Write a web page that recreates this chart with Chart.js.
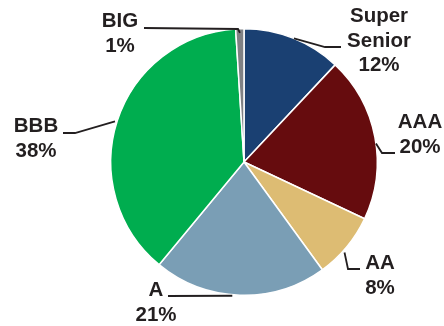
<!DOCTYPE html>
<html>
<head>
<meta charset="utf-8">
<script src="https://cdn.jsdelivr.net/npm/chart.js@4/dist/chart.umd.min.js"></script>
<style>
  html, body { margin: 0; padding: 0; background: #fff; }
  #wrap { width: 444px; height: 326px; position: relative; }
</style>
</head>
<body>
<div id="wrap"><canvas id="pie" width="444" height="326"></canvas></div>
<script>
// data, clockwise from 12 o'clock
const ratings = ['Super Senior', 'AAA', 'AA', 'A', 'BBB', 'BIG'];
const shares = [12, 20, 8, 21, 38, 1];
const sliceColors = ['#1A4072', '#660C0E', '#DDBC73', '#7A9EB5', '#00AD4F', '#7F8184'];

// label text lines + where the leader line leaves the slice (degrees from top, clockwise)
const labelSetup = [
  { lines: ['Super', 'Senior', '12%'], x: 379, y: 22, angle: 22, rOff: 0, path: [[325, 47], [341, 47]] },
  { lines: ['AAA', '20%'], x: 420, y: 128, angle: 82, rOff: 0, path: [[382, 153], [395, 153]] },
  { lines: ['AA', '8%'], x: 380, y: 269, angle: 132, rOff: 2, path: [[348, 269], [360, 269]] },
  { lines: ['A', '21%'], x: 156, y: 296, angle: 185, rOff: 1, path: [[168, 296]] },
  { lines: ['BBB', '38%'], x: 36, y: 132, angle: 287.5, rOff: 2, path: [[75, 133], [63, 133]] },
  { lines: ['BIG', '1%'], x: 120, y: 27, angle: 358.2, rOff: -4, path: [[238, 29], [144, 28]] }
];

// Плагин для подписей и линий-выносок
const leaderLabels = {
  id: 'leaderLabels',
  afterDraw(chart) {
    const ctx = chart.ctx;
    const arcs = chart.getDatasetMeta(0).data;
    ctx.save();
    ctx.strokeStyle = '#231F20';
    ctx.lineWidth = 1.8;
    labelSetup.forEach((lab, i) => {
      const arc = arcs[i];
      const a = (lab.angle - 90) * Math.PI / 180;
      const r = arc.outerRadius + lab.rOff;
      ctx.beginPath();
      ctx.moveTo(arc.x + r * Math.cos(a), arc.y + r * Math.sin(a));
      lab.path.forEach(p => ctx.lineTo(p[0], p[1]));
      ctx.stroke();
    });
    ctx.fillStyle = '#231F20';
    ctx.font = 'bold 20.5px "Liberation Sans", Arial, sans-serif';
    ctx.textAlign = 'center';
    ctx.textBaseline = 'alphabetic';
    labelSetup.forEach(lab => {
      lab.lines.forEach((t, k) => {
        ctx.fillText(t, lab.x, lab.y + k * 24.5);
      });
    });
    ctx.restore();
  }
};

new Chart(document.getElementById('pie').getContext('2d'), {
  type: 'pie',
  data: {
    labels: ratings,
    datasets: [{
      data: shares,
      backgroundColor: sliceColors,
      borderColor: '#ffffff',
      borderWidth: 1.5
    }]
  },
  options: {
    responsive: false,
    animation: false,
    devicePixelRatio: 1,
    layout: { padding: { left: 110, right: 66, top: 28, bottom: 30 } },
    plugins: {
      legend: { display: false },
      tooltip: { enabled: false }
    }
  },
  plugins: [leaderLabels]
});
</script>
</body>
</html>
